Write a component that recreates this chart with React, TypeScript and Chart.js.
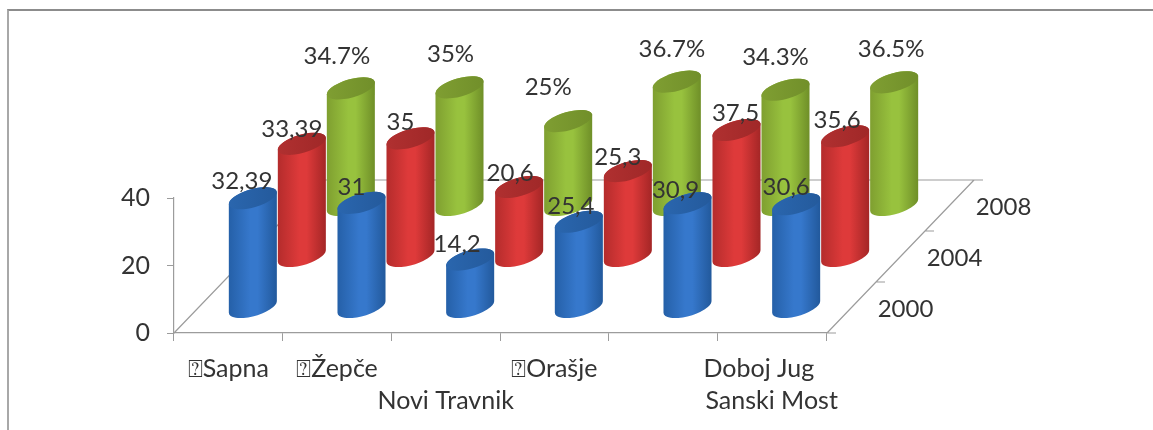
import React, { useEffect, useRef } from "react";
import { Chart, registerables, BarController } from "chart.js";

const categories = ["⍰Sapna", "⍰Žepče", ["", "Novi Travnik"], "⍰Orašje", "", ["Doboj Jug\u00A0\u00A0\u00A0\u00A0", "Sanski Most"]];
const series2000 = [32.39, 31, 14.2, 25.4, 30.9, 30.6];
const series2004 = [33.39, 35, 20.6, 25.3, 37.5, 35.6];
const series2008 = [34.7, 35, 25, 36.7, 34.3, 36.5];
const labels2000 = ["32,39", "31", "14,2", "25,4", "30,9", "30,6"];
const labels2004 = ["33,39", "35", "20,6", "25,3", "37,5", "35,6"];
const labels2008 = ["34.7%", "35%", "25%", "36.7%", "34.3%", "36.5%"];
const seriesNames = ["2000", "2004", "2008"];
const yMax = 40;
const yStep = 20;

const depthStepX = 49;
const depthStepY = 51;
const labelNudgeX = [
  [-11, -10, -13, -8, -12, -10],
  [-10, -10, -9, -10, -1, -8],
  [-14, -9, -20, -5, -10, -3],
];
const labelNudgeY = [
  [-9, -8, -8, -8, -5, -9],
  [-7, -8, -6, -6, -9, -8],
  [-24, -25, -26, -25, -25, -25],
];
const palette = [
  { edgeL: "#2560a8", mid: "#3678cc", edgeR: "#22599c", top: "#2a66ae", topDark: "#245a9c" },
  { edgeL: "#b42c2c", mid: "#de3a3a", edgeR: "#a42626", top: "#b03030", topDark: "#a02828" },
  { edgeL: "#7f9f30", mid: "#98c23e", edgeR: "#6f8f28", top: "#7f9e32", topDark: "#718f2a" },
];
const seriesValueLabels = [labels2000, labels2004, labels2008];
const FONT = "Lato";
const TEXT = "#333333";
const LINE = "#9c9c9c";
const TILT = -0.277;

function depthOffset(i: number) {
  return { dx: (i + 0.5) * depthStepX, dy: -(i + 0.5) * depthStepY };
}

class CylinderController extends BarController {
  static id = "cylinder";
  static defaults = { ...(BarController as any).defaults };
  static overrides = (BarController as any).overrides;
  draw() {
    const meta = (this as any).getMeta();
    const ctx = (this as any).chart.ctx;
    const idx = (this as any).index;
    const c = palette[idx];
    const { dx, dy } = depthOffset(idx);
    meta.data.forEach((bar: any) => {
      const cx = bar.x + dx;
      const topY = bar.y + dy;
      const baseY = bar.base + dy;
      const w = bar.width;
      const a = w * 0.517;
      const b = w * 0.19;
      const t0 = Math.atan2(-b * Math.sin(TILT), a * Math.cos(TILT));
      const g = ctx.createLinearGradient(cx - w / 2, 0, cx + w / 2, 0);
      g.addColorStop(0, c.edgeL);
      g.addColorStop(0.45, c.mid);
      g.addColorStop(0.6, c.mid);
      g.addColorStop(1, c.edgeR);
      ctx.save();
      ctx.beginPath();
      ctx.ellipse(cx, baseY, a, b, TILT, t0, t0 + Math.PI);
      ctx.ellipse(cx, topY, a, b, TILT, t0 + Math.PI, t0 + 2 * Math.PI);
      ctx.closePath();
      ctx.fillStyle = g;
      ctx.fill();
      const tg = ctx.createLinearGradient(cx - w / 2, 0, cx + w / 2, 0);
      tg.addColorStop(0, c.top);
      tg.addColorStop(1, c.topDark);
      ctx.beginPath();
      ctx.ellipse(cx, topY, a, b, TILT, 0, 2 * Math.PI);
      ctx.fillStyle = tg;
      ctx.fill();
      ctx.restore();
    });
  }
}

Chart.register(...registerables, CylinderController as any);

const floorPlugin = {
  id: "floor3d",
  beforeDatasetsDraw(chart: any) {
    const { ctx, chartArea } = chart;
    const n = seriesNames.length;
    const L = chartArea.left;
    const R = chartArea.right + 1;
    const B = chartArea.bottom;
    const totalX = n * depthStepX;
    const totalY = n * depthStepY;
    ctx.save();
    ctx.strokeStyle = LINE;
    ctx.lineWidth = 1.2;
    ctx.beginPath();
    ctx.moveTo(L, B);
    ctx.lineTo(L + totalX, B - totalY);
    ctx.lineTo(R + totalX, B - totalY);
    ctx.lineTo(R, B);
    for (let i = 0; i <= n; i++) {
      const x = R + i * depthStepX;
      const y = B - i * depthStepY;
      ctx.moveTo(x, y);
      ctx.lineTo(x + 9, y);
    }
    ctx.stroke();
    ctx.restore();
  },
  afterDatasetsDraw(chart: any) {
    const { ctx, chartArea } = chart;
    ctx.save();
    ctx.font = `24px ${FONT}`;
    ctx.fillStyle = TEXT;
    ctx.textAlign = "center";
    ctx.textBaseline = "alphabetic";
    seriesValueLabels.forEach((labels, s) => {
      const meta = chart.getDatasetMeta(s);
      const { dx, dy } = depthOffset(s);
      meta.data.forEach((bar: any, i: number) => {
        ctx.fillText(labels[i], bar.x + dx + labelNudgeX[s][i], bar.y + dy + labelNudgeY[s][i]);
      });
    });
    ctx.textBaseline = "middle";
    seriesNames.forEach((name, s) => {
      const { dx, dy } = depthOffset(s);
      ctx.fillText(name, chartArea.right + 1 + dx + 54, chartArea.bottom + dy + 2);
    });
    ctx.restore();
  },
};

export default function App() {
  const ref = useRef<HTMLCanvasElement>(null);
  useEffect(() => {
    const mk = (label: string, data: number[]) => ({
      label,
      data,
      clip: false as any,
      grouped: false,
      categoryPercentage: 1,
      barPercentage: 0.442,
    });
    const chart = new Chart(ref.current as HTMLCanvasElement, {
      type: "cylinder" as any,
      data: {
        labels: categories as any,
        datasets: [
          mk(seriesNames[0], series2000),
          mk(seriesNames[1], series2004),
          mk(seriesNames[2], series2008),
        ],
      },
      options: {
        animation: false,
        responsive: false,
        layout: { padding: { left: 0, top: 198, right: 327, bottom: 0 } },
        plugins: { legend: { display: false }, tooltip: { enabled: false } },
        scales: {
          x: {
            type: "category",
            offset: true,
            afterFit(s: any) {
              s.height = 97;
            },
            border: { color: LINE, width: 1.2 },
            grid: { offset: true, drawOnChartArea: false, drawTicks: true, tickLength: 8, color: LINE },
            ticks: {
              autoSkip: false,
              maxRotation: 0,
              minRotation: 0,
              color: TEXT,
              padding: 12,
              font: { family: FONT, size: 25, lineHeight: 1.28 },
            },
          },
          y: {
            type: "linear",
            min: 0,
            max: yMax,
            afterFit(s: any) {
              s.width = 174;
            },
            border: { color: LINE, width: 1.2 },
            grid: { drawOnChartArea: false, drawTicks: true, tickLength: 7, color: LINE },
            ticks: { stepSize: yStep, color: TEXT, padding: 17, font: { family: FONT, size: 25 } },
          },
        },
      } as any,
      plugins: [floorPlugin],
    });
    return () => chart.destroy();
  }, []);
  return (
    <div style={{ position: "absolute", left: 0, top: 0, width: 1153, height: 430, overflow: "hidden", background: "#fff" }}>
      <div
        style={{
          position: "absolute",
          left: 7,
          top: 9,
          width: 1146,
          height: 421,
          boxSizing: "border-box",
          borderLeft: "2px solid #a8a8a8",
          borderTop: "2px solid #8c8c8c",
        }}
      />
      <canvas ref={ref} width={1153} height={430} style={{ position: "absolute", left: 0, top: 0, display: "block" }} />
    </div>
  );
}
